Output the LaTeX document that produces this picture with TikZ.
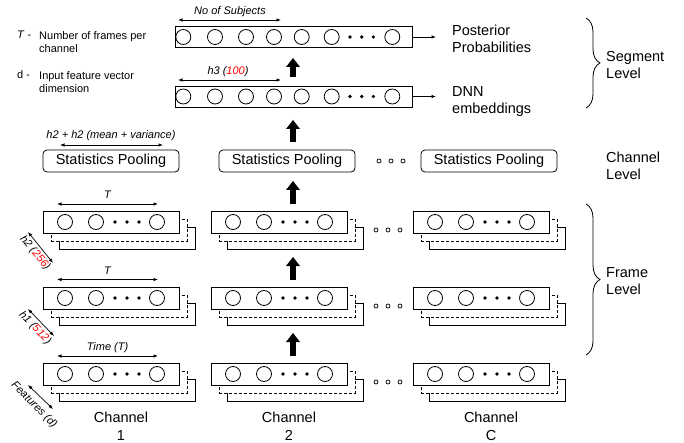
\documentclass[tikz,border=0pt]{standalone}
\usepackage{fontspec}
\setmainfont{Liberation Sans}
\usetikzlibrary{arrows.meta,decorations.pathreplacing,calc}

\newcommand\fbig{\fontsize{14.5}{17}\selectfont}
\newcommand\fsmall{\fontsize{11}{13}\selectfont}

\tikzset{
  lw/.style={line width=0.8pt},
  layerbox/.style={draw, lw, fill=white, rectangle, minimum width=136pt, minimum height=22pt, inner sep=0pt, outer sep=0pt},
  topbox/.style={layerbox, minimum width=237pt, minimum height=21pt},
  dashbox/.style={layerbox, dash pattern=on 3pt off 2pt},
  poolbox/.style={layerbox, rounded corners=4pt, font=\fbig},
  neuron/.style={draw, lw, circle, minimum size=15pt, inner sep=0pt, fill=white},
  bdot/.style={fill=black, circle, minimum size=3.6pt, inner sep=0pt},
  odot/.style={draw, line width=0.7pt, circle, minimum size=4pt, inner sep=0pt},
  dbl/.style={line width=0.7pt, {Latex[length=4.5pt,width=3.5pt]}-{Latex[length=4.5pt,width=3.5pt]}},
  outarrow/.style={line width=0.7pt, -{Latex[length=4.5pt,width=3.5pt]}},
  fat/.style={line width=6pt, -{Triangle[length=9pt,width=14pt,line width=0pt]}},
  lbl/.style={font=\fsmall\itshape, inner sep=0pt},
  bigtxt/.style={font=\fbig, align=left, inner sep=0pt},
  brc/.style={decorate, decoration={brace, amplitude=14pt}, line width=0.8pt},
}

\newcommand\fstack[3]{%
  \node[layerbox, anchor=north west] (#1bb) at ({#2+16},{#3+16}) {};
  \node[dashbox, anchor=north west] (#1db) at ({#2+8},{#3+8}) {};
  \node[layerbox, anchor=north west] (#1) at (#2,#3) {};
  \foreach \dx [count=\i] in {22,53,114} \node[neuron] (#1n\i) at ({#2+\dx},{#3+11}) {};
  \foreach \dx [count=\i] in {72,84,96} \node[bdot] (#1d\i) at ({#2+\dx},{#3+11}) {};
}

\begin{document}
\begin{tikzpicture}[x=1pt,y=-1pt]
\useasboundingbox (0,0) rectangle (684,443);

% legend
\node[anchor=base west, font=\fsmall, inner sep=0pt] (legT) at (17,38.5) {\textit{T} -};
\node[anchor=north west, font=\fsmall, align=left, inner sep=0pt] (legTt) at (39,31.5) {Number of frames per\\channel};
\node[anchor=base west, font=\fsmall, inner sep=0pt] (legd) at (17,78.5) {d -};
\node[anchor=north west, font=\fsmall, align=left, inner sep=0pt] (legdt) at (39,71.5) {Input feature vector\\dimension};

% segment level layers
\node[topbox] (post) at (293.5,37) {};
\node[topbox] (dnn) at (293.5,96.5) {};
\foreach \x [count=\i] in {183.3,215,246,274,301.7,331.7,392.3} {
  \node[neuron] (postn\i) at (\x,37) {};
  \node[neuron] (dnnn\i) at (\x,96.5) {};
}
\foreach \x [count=\i] in {350,361.7,373.3} {
  \node[bdot] (postd\i) at (\x,37) {};
  \node[bdot] (dnnd\i) at (\x,96.5) {};
}
\coordinate (postout) at (436,37);
\coordinate (dnnout) at (436,96.5);
\draw[outarrow] (post.east) -- (postout);
\draw[outarrow] (dnn.east) -- (dnnout);
\node[bigtxt, anchor=north west] (postlbl) at (452,24.5) {Posterior\\Probabilities};
\node[bigtxt, anchor=north west] (dnnlbl) at (452,86) {DNN\\embeddings};

\draw[dbl] (178,20) coordinate (nsa) -- (281,20) coordinate (nsb);
\node[lbl, anchor=base] (nslbl) at (230,15) {No of Subjects};
\draw[dbl] (178,80) coordinate (h3a) -- (281,80) coordinate (h3b);
\node[lbl, anchor=base] (h3lbl) at (228,75) {h3 (\textcolor{red}{100})};

\coordinate (fx) at (293,0);
\draw[fat, shorten <=9pt, shorten >=10.5pt] (dnn.north -| fx) -- (post.south -| fx);

% channel level
\node[poolbox] (pool1) at (111,161) {Statistics Pooling};
\node[poolbox] (pool2) at (287,161) {Statistics Pooling};
\node[poolbox] (pool3) at (489,161) {Statistics Pooling};
\foreach \x [count=\i] in {379,391,403} \node[odot] (pe\i) at (\x,161) {};
\draw[fat, shorten <=8pt, shorten >=13pt] (pool2.north -| fx) -- (dnn.south -| fx);
\draw[dbl] (60,145) coordinate (mva) -- (163,145) coordinate (mvb);
\node[lbl, anchor=base] (mvlbl) at (111,139) {h2 + h2 (mean + variance)};

% frame level stacks
\fstack{ra}{43}{211}
\fstack{rb}{211}{211}
\fstack{rc}{413}{211}
\fstack{sa}{43}{287}
\fstack{sb}{211}{287}
\fstack{sc}{413}{287}
\fstack{ta}{43}{363}
\fstack{tb}{211}{363}
\fstack{tc}{413}{363}
\foreach \y [count=\j] in {230,306,382}
  \foreach \x [count=\i] in {376,388,400}
    \node[odot] (fe\j\i) at (\x,\y) {};

\draw[fat, shorten <=7pt, shorten >=9pt] (rb.north -| fx) -- (pool2.south -| fx);
\draw[fat, shorten <=7pt, shorten >=8pt] (sb.north -| fx) -- (rbbb.south -| fx);
\draw[fat, shorten <=7pt, shorten >=8pt] (tb.north -| fx) -- (sbbb.south -| fx);

\draw[dbl] (57,204) coordinate (t1a) -- (158,204) coordinate (t1b);
\node[lbl, anchor=base] (t1lbl) at (107.5,198.5) {T};
\draw[dbl] (57,279.5) coordinate (t2a) -- (158,279.5) coordinate (t2b);
\node[lbl, anchor=base] (t2lbl) at (107.5,274) {T};
\draw[dbl] (57,356) coordinate (t3a) -- (158,356) coordinate (t3b);
\node[lbl, anchor=base] (t3lbl) at (107.5,350.5) {Time (T)};

\draw[dbl] (28,232) coordinate (h2a) -- (53,263) coordinate (h2b);
\node[lbl, rotate=-50] (h2lbl) at (35,253) {h2 (\textcolor{red}{256})};
\draw[dbl] (28,309) coordinate (h1a) -- (54,336) coordinate (h1b);
\node[lbl, rotate=-46] (h1lbl) at (35,328) {h1 (\textcolor{red}{512})};
\draw[dbl] (28,385) coordinate (fda) -- (53,409) coordinate (fdb);
\node[lbl, rotate=-45] (fdlbl) at (34,405) {Features (d)};

% channel labels
\node[bigtxt, align=center, anchor=north, font=\fontsize{14.5}{18}\selectfont] (ch1) at (121,411.5) {Channel\\1};
\node[bigtxt, align=center, anchor=north, font=\fontsize{14.5}{18}\selectfont] (ch2) at (289,411.5) {Channel\\2};
\node[bigtxt, align=center, anchor=north, font=\fontsize{14.5}{18}\selectfont] (ch3) at (491,411.5) {Channel\\C};

% braces and level labels
\draw[brc] (586,18) coordinate (sgt) -- (586,108) coordinate (sgb);
\node[bigtxt, anchor=north west] (seglbl) at (606,51.5) {Segment\\Level};
\node[bigtxt, anchor=north west] (chlbl) at (606,151.5) {Channel\\Level};
\draw[brc] (586,204) coordinate (frt) -- (586,355) coordinate (frb);
\node[bigtxt, anchor=north west] (frlbl) at (606,267) {Frame\\Level};
\end{tikzpicture}
\end{document}
